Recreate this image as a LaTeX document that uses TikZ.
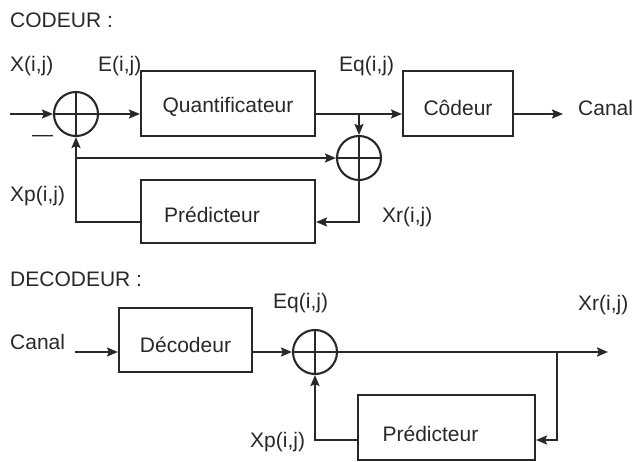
\documentclass[tikz,border=0pt]{standalone}
\usepackage{fontspec}
\setmainfont{Liberation Sans}
\usetikzlibrary{arrows.meta,calc}
\definecolor{ink}{RGB}{40,40,40}
\begin{document}
\begin{tikzpicture}[x=1pt,y=-1pt,
  every node/.style={font=\fontsize{21}{24}\selectfont, text=ink},
  blk/.style={draw=ink, line width=2.1pt, rectangle, inner sep=0},
  sumnode/.style={draw=ink, line width=2.1pt, circle, minimum size=44pt, inner sep=0},
  lbl/.style={anchor=base west, inner sep=0},
  wire/.style={draw=ink, line width=2.1pt},
  arr/.style={wire, -{Stealth[length=11pt,width=9pt,inset=2pt]}}]
\useasboundingbox (0,0) rectangle (635,462);

% ---------------- CODEUR ----------------
\node[lbl] (t1) at (10,28) {CODEUR :};
\node[lbl] (xl) at (10,72) {X(i,j)};
\node[lbl] (el) at (98,72) {E(i,j)};
\node[lbl] (eql) at (339,72) {Eq(i,j)};
\node[lbl] (canal1) at (578,116) {Canal};
\node[lbl] (xpl) at (10,202) {Xp(i,j)};
\node[lbl] (xrl) at (382,223) {Xr(i,j)};
\node[lbl] (minus) at (32,141.5) {—};

\node[sumnode] (c1) at (76,114) {};
\node[sumnode] (c2) at (359,158) {};
\draw[wire] (c1.north) -- (c1.south) (c1.west) -- (c1.east);
\draw[wire] (c2.north) -- (c2.south) (c2.west) -- (c2.east);

\node[blk, minimum width=174pt, minimum height=65pt,
      label={[yshift=-3pt]center:Quantificateur}] (q) at (228,103.5) {};
\node[blk, minimum width=110pt, minimum height=65pt,
      label={[yshift=-4pt]center:Côdeur}] (cod) at (458,103.5) {};
\node[blk, minimum width=174pt, minimum height=63pt,
      label={[xshift=-16pt,yshift=-3.5pt]center:Prédicteur}] (p1) at (228,211.5) {};

\coordinate (in1) at (10,114);
\coordinate (out1) at (563,114);
\coordinate (b1) at (359,114);

\draw[arr] (in1) -- (c1.west);
\draw[arr] (c1.east) -- (c1.east -| q.west);
\draw[arr] (q.east |- c1) -- (cod.west |- c1);
\draw[arr] (b1) -- (c2.north);
\draw[arr] (cod.east |- c1) -- (out1);
\draw[arr] (c2.south) |- ($(p1.east)+(0,10.5)$);
\draw[arr] ($(p1.west)+(0,10.5)$) -| (c1.south);
\draw[arr] (c1 |- c2) -- (c2.west);

% ---------------- DECODEUR ----------------
\node[lbl] (t2) at (10,287) {DECODEUR :};
\node[lbl] (canal2) at (10,350) {Canal};
\node[lbl] (eql2) at (273,309) {Eq(i,j)};
\node[lbl] (xrl2) at (578,311) {Xr(i,j)};
\node[lbl] (xpl2) at (250,447) {Xp(i,j)};

\node[blk, minimum width=133pt, minimum height=64pt,
      label={[yshift=-5pt]center:Décodeur}] (dec) at (185.5,340) {};
\node[sumnode] (c3) at (315,352) {};
\draw[wire] (c3.north) -- (c3.south) (c3.west) -- (c3.east);
\node[blk, minimum width=177pt, minimum height=65pt,
      label={[xshift=-16pt,yshift=-6.5pt]center:Prédicteur}] (p2) at (446.5,427.5) {};

\coordinate (in2) at (75,352);
\coordinate (out2) at (608,352);
\coordinate (b2) at (557,352);

\draw[arr] (in2) -- (in2 -| dec.west);
\draw[arr] (dec.east |- c3) -- (c3.west);
\draw[arr] (c3.east) -- (out2);
\draw[arr] (b2) |- ($(p2.east)+(0,12.5)$);
\draw[arr] ($(p2.west)+(0,12.5)$) -| (c3.south);
\end{tikzpicture}
\end{document}
